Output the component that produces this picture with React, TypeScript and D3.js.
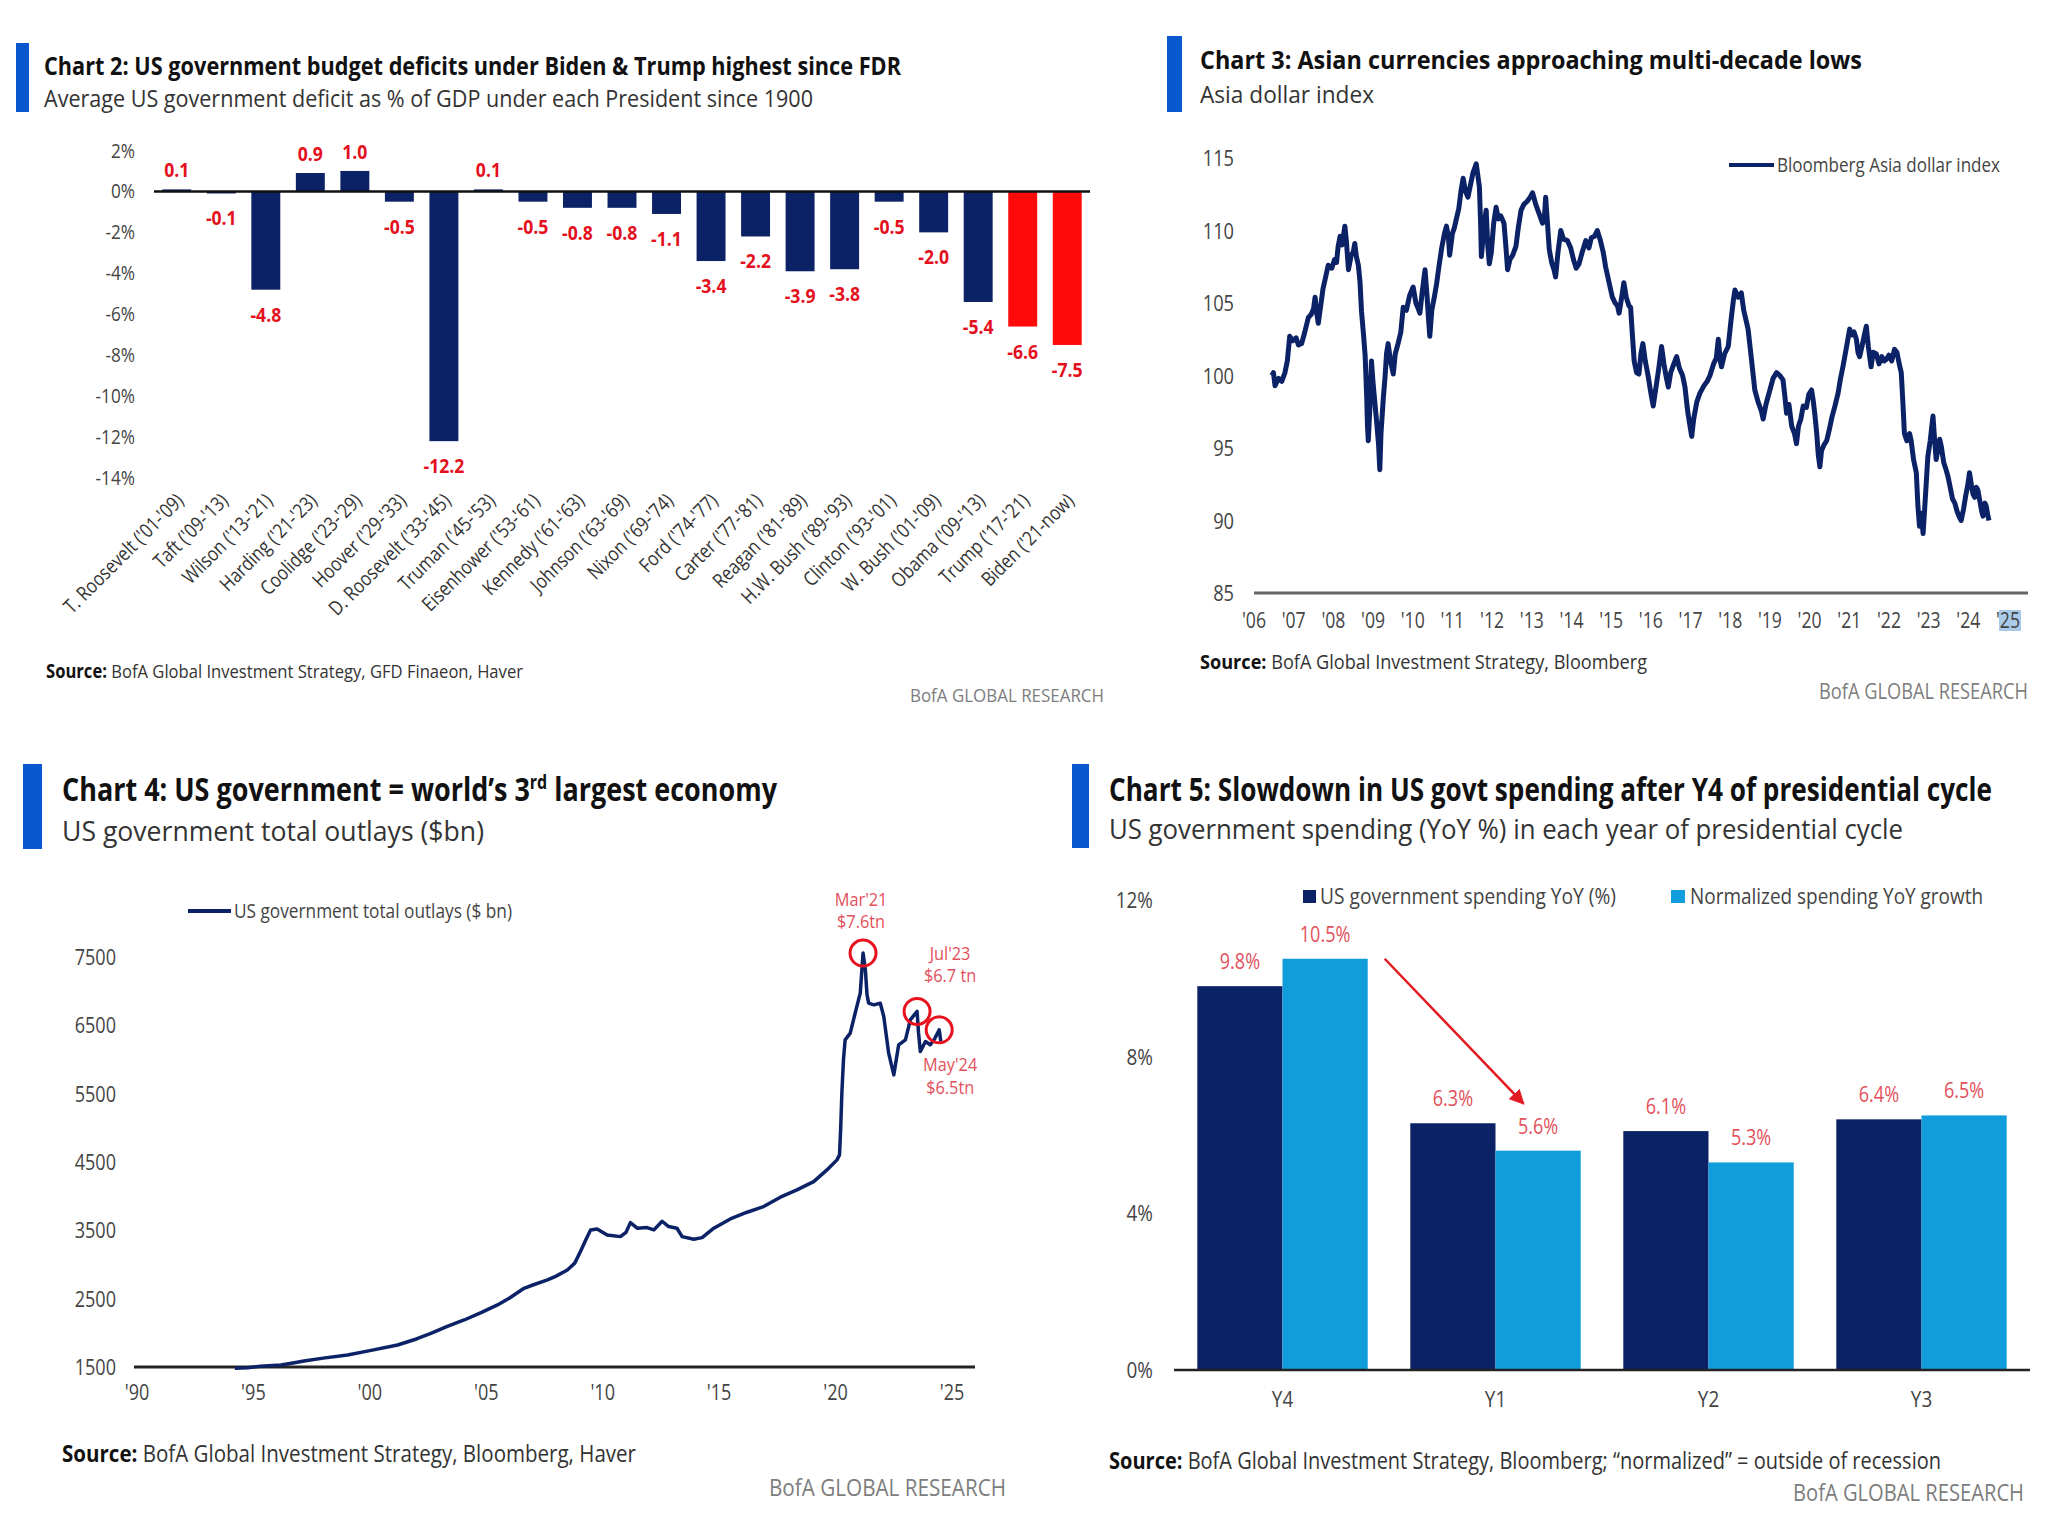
import React from 'react';
import * as d3 from 'd3';

const NAVY = '#0c2266';
const RED = '#fd0a0a';
const LABEL_RED = '#e4101d';
const SOFT_RED = '#e2505b';
const CYAN = '#119cdb';
const ACCENT = '#0a58d0';
const FONT = "'Open Sans', 'Noto Sans', sans-serif";

// Chart 2: average deficit (% of GDP) by president
const presidents = [
  "T. Roosevelt ('01-'09)", "Taft ('09-'13)", "Wilson ('13-'21)", "Harding ('21-'23)",
  "Coolidge ('23-'29)", "Hoover ('29-'33)", "D. Roosevelt ('33-'45)", "Truman ('45-'53)",
  "Eisenhower ('53-'61)", "Kennedy ('61-'63)", "Johnson ('63-'69)", "Nixon ('69-'74)",
  "Ford ('74-'77)", "Carter ('77-'81)", "Reagan ('81-'89)", "H.W. Bush ('89-'93)",
  "Clinton ('93-'01)", "W. Bush ('01-'09)", "Obama ('09-'13)", "Trump ('17-'21)", "Biden ('21-now)",
];
const deficits = [0.1, -0.1, -4.8, 0.9, 1.0, -0.5, -12.2, 0.1, -0.5, -0.8, -0.8, -1.1, -3.4, -2.2, -3.9, -3.8, -0.5, -2.0, -5.4, -6.6, -7.5];
const highlighted = ["Trump ('17-'21)", "Biden ('21-now)"];
const deficitTicks = [2, 0, -2, -4, -6, -8, -10, -12, -14];

// Chart 3: Bloomberg Asia dollar index
const asiaYears = [
  2006.45, 2006.49, 2006.53, 2006.62, 2006.7, 2006.78, 2006.84, 2006.9, 2006.98, 2007.06, 2007.12, 2007.2,
  2007.28, 2007.37, 2007.44, 2007.5, 2007.54, 2007.58, 2007.62, 2007.68, 2007.74, 2007.79, 2007.87, 2007.96,
  2008.03, 2008.08, 2008.12, 2008.17, 2008.22, 2008.29, 2008.33, 2008.38, 2008.45, 2008.5, 2008.54, 2008.58,
  2008.63, 2008.67, 2008.71, 2008.76, 2008.8, 2008.84, 2008.86, 2008.88, 2008.92, 2008.96, 2009.0, 2009.05,
  2009.1, 2009.14, 2009.17, 2009.2, 2009.26, 2009.3, 2009.34, 2009.38, 2009.44, 2009.51, 2009.56, 2009.63,
  2009.7, 2009.76, 2009.84, 2009.92, 2010.01, 2010.08, 2010.14, 2010.18, 2010.24, 2010.31, 2010.36, 2010.4,
  2010.43, 2010.48, 2010.55, 2010.6, 2010.66, 2010.73, 2010.8, 2010.85, 2010.9, 2010.93, 2011.0, 2011.05,
  2011.1, 2011.16, 2011.22, 2011.27, 2011.33, 2011.39, 2011.46, 2011.52, 2011.6, 2011.64, 2011.68, 2011.71,
  2011.73, 2011.77, 2011.81, 2011.85, 2011.89, 2011.93, 2011.98, 2012.04, 2012.1, 2012.16, 2012.22, 2012.3,
  2012.35, 2012.39, 2012.45, 2012.52, 2012.6, 2012.66, 2012.73, 2012.8, 2012.88, 2012.96, 2013.02, 2013.1,
  2013.18, 2013.27, 2013.32, 2013.35, 2013.4, 2013.44, 2013.5, 2013.56, 2013.6, 2013.66, 2013.73, 2013.8,
  2013.9, 2013.98, 2014.05, 2014.12, 2014.19, 2014.27, 2014.36, 2014.44, 2014.5, 2014.58, 2014.65, 2014.72,
  2014.8, 2014.86, 2014.94, 2015.03, 2015.1, 2015.16, 2015.2, 2015.26, 2015.32, 2015.38, 2015.45, 2015.49,
  2015.53, 2015.58, 2015.64, 2015.7, 2015.75, 2015.8, 2015.86, 2015.93, 2016.0, 2016.06, 2016.12, 2016.2,
  2016.27, 2016.33, 2016.38, 2016.44, 2016.5, 2016.58, 2016.65, 2016.72, 2016.8, 2016.86, 2016.93, 2017.0,
  2017.03, 2017.08, 2017.16, 2017.24, 2017.34, 2017.42, 2017.49, 2017.58, 2017.65, 2017.7, 2017.75, 2017.78,
  2017.86, 2017.95, 2018.02, 2018.08, 2018.12, 2018.2, 2018.28, 2018.34, 2018.4, 2018.45, 2018.52, 2018.58,
  2018.62, 2018.7, 2018.78, 2018.83, 2018.9, 2019.0, 2019.08, 2019.17, 2019.25, 2019.33, 2019.38, 2019.42,
  2019.48, 2019.55, 2019.62, 2019.67, 2019.72, 2019.78, 2019.84, 2019.92, 2019.98, 2020.05, 2020.09, 2020.13,
  2020.18, 2020.22, 2020.26, 2020.3, 2020.36, 2020.43, 2020.5, 2020.57, 2020.64, 2020.72, 2020.78, 2020.84,
  2020.92, 2021.01, 2021.06, 2021.12, 2021.18, 2021.22, 2021.26, 2021.32, 2021.38, 2021.43, 2021.48, 2021.55,
  2021.6, 2021.68, 2021.75, 2021.82, 2021.88, 2021.93, 2022.0, 2022.07, 2022.14, 2022.2, 2022.26, 2022.31,
  2022.35, 2022.39, 2022.45, 2022.52, 2022.56, 2022.62, 2022.69, 2022.73, 2022.77, 2022.82, 2022.86, 2022.9,
  2022.94, 2022.98, 2023.04, 2023.08, 2023.11, 2023.15, 2023.19, 2023.24, 2023.28, 2023.32, 2023.38, 2023.44,
  2023.49, 2023.55, 2023.6, 2023.66, 2023.72, 2023.78, 2023.82, 2023.88, 2023.94, 2023.99, 2024.03, 2024.08,
  2024.12, 2024.16, 2024.2, 2024.24, 2024.3, 2024.34, 2024.37, 2024.42, 2024.45, 2024.49, 2024.52,
];
const asiaValues = [
  100.0, 100.2, 99.3, 99.8, 99.6, 100.2, 101.0, 102.7, 102.4, 102.6, 102.1, 102.2,
  103.0, 104.0, 104.2, 104.6, 105.4, 104.3, 103.6, 104.8, 106.0, 106.6, 107.6, 107.4,
  108.0, 107.8, 108.9, 109.6, 109.0, 110.3, 109.2, 107.3, 108.3, 108.5, 109.1, 108.2,
  107.6, 106.5, 104.4, 102.8, 101.4, 98.5, 96.5, 95.5, 97.8, 101.0, 99.5, 98.0,
  96.5, 95.2, 93.5, 96.0, 98.5, 99.8, 101.5, 102.2, 101.0, 100.1, 101.5, 102.2,
  103.0, 104.7, 104.5, 105.5, 106.1, 105.0, 104.6, 104.3, 105.8, 107.3, 105.5, 103.8,
  102.7, 104.5, 105.5, 106.3, 107.5, 108.8, 109.8, 110.3, 109.5, 108.3, 109.8, 110.2,
  110.8, 111.5, 112.8, 113.6, 112.7, 112.3, 113.2, 114.0, 114.6, 113.8, 113.0, 110.5,
  108.2, 109.5, 110.6, 111.4, 109.0, 107.7, 108.5, 110.5, 111.6, 110.8, 111.0, 110.5,
  108.8, 107.3, 108.0, 108.3, 108.9, 110.2, 111.4, 111.8, 112.0, 112.3, 112.6, 111.8,
  111.2, 110.5, 111.0, 112.3, 110.3, 108.7, 107.8, 107.3, 106.8, 108.5, 110.0, 109.4,
  109.3, 108.8, 108.0, 107.4, 107.7, 108.5, 109.3, 108.8, 109.5, 109.6, 110.0, 109.4,
  108.5, 107.5, 106.5, 105.4, 105.0, 104.8, 104.3, 105.3, 106.4, 105.4, 104.8, 104.7,
  103.0, 101.0, 100.2, 100.1, 101.5, 102.2, 101.0, 100.0, 98.8, 97.9, 99.0, 100.5,
  102.0, 100.8, 100.0, 99.2, 100.2, 100.8, 101.3, 100.5, 100.0, 99.2, 97.5, 96.3,
  95.8, 97.0, 98.2, 98.8, 99.3, 99.6, 100.0, 100.8, 101.2, 102.5, 101.0, 100.6,
  101.5, 102.0, 103.8, 105.2, 105.9, 105.4, 105.7, 104.5, 103.8, 103.2, 101.5, 100.0,
  99.0, 98.2, 97.6, 97.0, 98.0, 99.0, 99.8, 100.2, 100.0, 99.7, 98.5, 97.4,
  98.0, 96.5, 96.0, 95.3, 96.5, 97.0, 97.9, 97.8, 98.7, 99.0, 98.3, 97.4,
  96.0, 94.5, 93.7, 94.8, 95.2, 95.5, 96.3, 97.2, 97.9, 98.8, 99.8, 100.6,
  101.8, 103.2, 102.8, 103.0, 102.5, 101.6, 101.3, 102.0, 102.8, 103.4, 102.0, 100.6,
  101.6, 101.5, 100.8, 101.3, 101.0, 101.1, 101.4, 101.0, 101.8, 101.6, 100.8, 100.2,
  98.2, 96.0, 95.5, 96.0, 95.5, 94.2, 93.3, 91.0, 89.6, 90.5, 89.1, 90.8,
  92.6, 94.4, 95.5, 96.5, 97.2, 95.6, 94.2, 95.0, 95.6, 95.1, 94.0, 93.5,
  93.0, 92.2, 91.5, 91.2, 90.6, 90.2, 90.0, 90.8, 91.8, 92.5, 93.3, 92.4,
  91.8, 91.6, 92.3, 92.1, 91.2, 90.6, 90.3, 91.2, 91.0, 90.4, 90.0,
];
const asiaTicks = [85, 90, 95, 100, 105, 110, 115];
const asiaYearTicks = d3.range(2006, 2026);

// Chart 4: US government total outlays ($bn)
const outlayYears = [
  1994.2, 1994.75, 1995.3, 1996.18, 1996.7, 1997.17, 1998.0, 1999.04, 2000.0, 2001.19, 2002.0, 2002.62,
  2003.3, 2004.05, 2004.8, 2005.48, 2006.0, 2006.62, 2007.0, 2007.63, 2008.0, 2008.48, 2008.8, 2009.06,
  2009.3, 2009.48, 2009.76, 2010.19, 2010.76, 2011.0, 2011.19, 2011.48, 2011.9, 2012.2, 2012.55, 2012.83,
  2013.19, 2013.41, 2013.91, 2014.27, 2014.77, 2015.48, 2016.2, 2016.91, 2017.63, 2018.34, 2019.06, 2019.63,
  2020.06, 2020.17, 2020.22, 2020.27, 2020.34, 2020.41, 2020.63, 2020.84, 2021.06, 2021.18, 2021.28, 2021.35,
  2021.42, 2021.64, 2021.92, 2022.07, 2022.28, 2022.5, 2022.71, 2023.0, 2023.21, 2023.5, 2023.56, 2023.64,
  2023.86, 2024.07, 2024.25, 2024.45, 2024.52,
];
const outlayValues = [
  1480, 1490, 1510, 1530, 1560, 1588, 1630, 1676, 1740, 1822, 1910, 1993,
  2090, 2188, 2300, 2408, 2510, 2652, 2700, 2774, 2830, 2920, 3020, 3200,
  3380, 3506, 3520, 3433, 3408, 3470, 3613, 3531, 3540, 3506, 3633, 3555,
  3531, 3408, 3369, 3393, 3531, 3667, 3765, 3848, 3985, 4092, 4213, 4384,
  4531, 4604, 5000, 5507, 6000, 6288, 6385, 6677, 6971, 7557, 7312, 6950,
  6824, 6800, 6824, 6629, 6093, 5775, 6215, 6288, 6581, 6703, 6400, 6117,
  6263, 6215, 6300, 6434, 6263,
];
const outlayTicks = [1500, 2500, 3500, 4500, 5500, 6500, 7500];
const outlayYearTicks = [1990, 1995, 2000, 2005, 2010, 2015, 2020, 2025];
const peakYears = [2021.18, 2023.5, 2024.45];
const peakValues = [7557, 6703, 6434];
const peakLabels = [["Mar'21", '$7.6tn'], ["Jul'23", '$6.7 tn'], ["May'24", '$6.5tn']];

// Chart 5: spending growth by year of presidential cycle
const cycleYears = ['Y4', 'Y1', 'Y2', 'Y3'];
const spendingYoY = [9.8, 6.3, 6.1, 6.4];
const normalizedYoY = [10.5, 5.6, 5.3, 6.5];
const spendingTicks = [0, 4, 8, 12];

type TxtProps = {
  x: number; y: number; size: number; anchor?: string; weight?: number;
  fill?: string; sx?: number; rotate?: number; children: React.ReactNode;
};

// condensed text: the source uses a narrow humanist face
const Txt = ({ x, y, size, anchor = 'start', weight = 400, fill = '#333', sx = 0.86, rotate = 0, children }: TxtProps) => (
  <text
    transform={`translate(${x},${y})${rotate ? ` rotate(${rotate})` : ''} scale(${sx},1)`}
    fontSize={size} fontWeight={weight} fill={fill} textAnchor={anchor as any} fontFamily={FONT}
  >
    {children}
  </text>
);

type FitProps = { x: number; y: number; w: number; size: number; weight?: number; fill?: string; children: React.ReactNode };

const Fit = ({ x, y, w, size, weight = 400, fill = '#333', children }: FitProps) => (
  <text x={x} y={y} textLength={w} lengthAdjust="spacingAndGlyphs" fontSize={size} fontWeight={weight} fill={fill} fontFamily={FONT}>
    {children}
  </text>
);

type HeaderProps = {
  bar: [number, number, number, number];
  x: number; titleY: number; titleW: number; titleSize: number;
  subY: number; subW: number; subSize: number;
  title: React.ReactNode; subtitle: string;
};

const Header = ({ bar, x, titleY, titleW, titleSize, subY, subW, subSize, title, subtitle }: HeaderProps) => (
  <g>
    <rect x={bar[0]} y={bar[1]} width={bar[2]} height={bar[3]} fill={ACCENT} />
    <Fit x={x} y={titleY} w={titleW} size={titleSize} weight={700} fill="#111">{title}</Fit>
    <Fit x={x} y={subY} w={subW} size={subSize} fill="#333">{subtitle}</Fit>
  </g>
);

type FooterProps = { x: number; y: number; w: number; size: number; text: string; bx: number; by: number; bw: number; bsize: number };

const Footer = ({ x, y, w, size, text, bx, by, bw, bsize }: FooterProps) => (
  <g>
    <Fit x={x} y={y} w={w} size={size} fill="#333">
      <tspan fontWeight={700} fill="#111">Source:</tspan> {text}
    </Fit>
    <Fit x={bx} y={by} w={bw} size={bsize} fill="#7d7d7d">BofA GLOBAL RESEARCH</Fit>
  </g>
);

const DeficitChart = () => {
  const x = d3.scaleBand<string>().domain(presidents).range([154.5, 1089.5]).paddingInner(0.35).paddingOuter(0.175);
  const y = d3.scaleLinear().domain([-14, 2]).range([478, 150.5]);
  const bw = x.bandwidth();
  return (
    <g>
      <Header
        bar={[16, 43, 13, 69]} x={44} titleY={75} titleW={857} titleSize={25}
        subY={107} subW={769} subSize={23}
        title="Chart 2: US government budget deficits under Biden & Trump highest since FDR"
        subtitle="Average US government deficit as % of GDP under each President since 1900"
      />
      {deficitTicks.map(t => (
        <Txt key={t} x={135} y={y(t) + 7} size={20} anchor="end" fill="#444">{`${t}%`}</Txt>
      ))}
      {presidents.map((p, i) => {
        const v = deficits[i];
        const x0 = x(p) as number;
        return (
          <rect key={p} x={x0} y={y(Math.max(0, v))} width={bw} height={Math.abs(y(v) - y(0))}
            fill={highlighted.includes(p) ? RED : NAVY} />
        );
      })}
      <line x1={154} x2={1090} y1={y(0)} y2={y(0)} stroke="#111" strokeWidth={2.5} />
      {presidents.map((p, i) => {
        const v = deficits[i];
        const cx = (x(p) as number) + bw / 2;
        const ly = v >= 0 ? y(v) - 12 : y(v) + 32;
        return (
          <Txt key={p} x={cx} y={ly} size={20} weight={700} anchor="middle" fill={LABEL_RED} sx={0.88}>
            {v.toFixed(1)}
          </Txt>
        );
      })}
      {presidents.map(p => (
        <Txt key={p} x={(x(p) as number) + bw / 2 + 8} y={502} size={20} anchor="end" fill="#333" rotate={-45} sx={0.84}>{p}</Txt>
      ))}
      <Footer x={46} y={678} w={477} size={19} text="BofA Global Investment Strategy, GFD Finaeon, Haver"
        bx={910} by={702} bw={194} bsize={19} />
    </g>
  );
};

const AsiaChart = () => {
  const x = d3.scaleLinear().domain([2006, 2025]).range([1254, 2008]);
  const y = d3.scaleLinear().domain([85, 115]).range([593, 158]);
  const line = d3.line<number>().x((_, i) => x(asiaYears[i])).y(d => y(d));
  return (
    <g>
      <Header
        bar={[1167, 36, 15, 76]} x={1200} titleY={69} titleW={662} titleSize={25}
        subY={103} subW={174} subSize={24}
        title="Chart 3: Asian currencies approaching multi-decade lows"
        subtitle="Asia dollar index"
      />
      {asiaTicks.map(t => (
        <Txt key={t} x={1234} y={y(t) + 8} size={22} anchor="end" fill="#444" sx={0.83}>{t}</Txt>
      ))}
      <line x1={1254} x2={2028} y1={y(85)} y2={y(85)} stroke="#666" strokeWidth={3} />
      <rect x={x(2025) - 9} y={610} width={22} height={21} fill="#a9cbe9" />
      {asiaYearTicks.map(t => (
        <Txt key={t} x={x(t)} y={628} size={22} anchor="middle" fill="#444" sx={0.8}>{`'${String(t).slice(2)}`}</Txt>
      ))}
      <path d={line(asiaValues) || ''} fill="none" stroke={NAVY} strokeWidth={5} strokeLinejoin="round" />
      <line x1={1729} x2={1774} y1={165} y2={165} stroke={NAVY} strokeWidth={4} />
      <Fit x={1777} y={172} w={223} size={20} fill="#444">Bloomberg Asia dollar index</Fit>
      <Footer x={1200} y={669} w={447} size={20} text="BofA Global Investment Strategy, Bloomberg"
        bx={1819} by={699} bw={209} bsize={21} />
    </g>
  );
};

const OutlaysChart = () => {
  const x = d3.scaleLinear().domain([1990, 2025]).range([137, 952]);
  const y = d3.scaleLinear().domain([1500, 7500]).range([1367, 957]);
  const line = d3.line<number>().x((_, i) => x(outlayYears[i])).y(d => y(d));
  return (
    <g>
      <Header
        bar={[23, 764, 19, 85]} x={62} titleY={801} titleW={715} titleSize={32}
        subY={841} subW={422} subSize={28}
        title={<>Chart 4: US government = world’s 3<tspan fontSize={19} dy={-12}>rd</tspan><tspan dy={12}> largest economy</tspan></>}
        subtitle="US government total outlays ($bn)"
      />
      <line x1={188} x2={231} y1={911} y2={911} stroke={NAVY} strokeWidth={4} />
      <Fit x={234} y={918} w={278} size={20} fill="#444">US government total outlays ($ bn)</Fit>
      {outlayTicks.map(t => (
        <Txt key={t} x={116} y={y(t) + 8} size={21} anchor="end" fill="#444">{t}</Txt>
      ))}
      <line x1={134} x2={975} y1={y(1500)} y2={y(1500)} stroke="#222" strokeWidth={3} />
      {outlayYearTicks.map(t => (
        <Txt key={t} x={x(t)} y={1400} size={21} anchor="middle" fill="#444">{`'${String(t).slice(2)}`}</Txt>
      ))}
      <path d={line(outlayValues) || ''} fill="none" stroke={NAVY} strokeWidth={3.5} strokeLinejoin="round" />
      {peakYears.map((yr, i) => (
        <circle key={yr} cx={x(yr)} cy={y(peakValues[i])} r={13} fill="none" stroke="#e8121e" strokeWidth={3} />
      ))}
      <Txt x={x(peakYears[0]) - 2} y={906} size={19} anchor="middle" fill={SOFT_RED}>{peakLabels[0][0]}</Txt>
      <Txt x={x(peakYears[0]) - 2} y={928} size={19} anchor="middle" fill={SOFT_RED}>{peakLabels[0][1]}</Txt>
      <Txt x={x(peakYears[1]) + 33} y={960} size={19} anchor="middle" fill={SOFT_RED}>{peakLabels[1][0]}</Txt>
      <Txt x={x(peakYears[1]) + 33} y={982} size={19} anchor="middle" fill={SOFT_RED}>{peakLabels[1][1]}</Txt>
      <Txt x={x(peakYears[2]) + 11} y={1071} size={19} anchor="middle" fill={SOFT_RED}>{peakLabels[2][0]}</Txt>
      <Txt x={x(peakYears[2]) + 11} y={1094} size={19} anchor="middle" fill={SOFT_RED}>{peakLabels[2][1]}</Txt>
      <Footer x={62} y={1462} w={574} size={23} text="BofA Global Investment Strategy, Bloomberg, Haver"
        bx={769} by={1496} bw={237} bsize={23} />
    </g>
  );
};

const CycleChart = () => {
  const x0 = d3.scaleBand<string>().domain(cycleYears).range([1176, 2028]).paddingInner(0.2).paddingOuter(0.1);
  const x1 = d3.scaleBand<string>().domain(['spend', 'norm']).range([0, x0.bandwidth()]);
  const y = d3.scaleLinear().domain([0, 12]).range([1370, 900]);
  const series = [
    { key: 'spend', values: spendingYoY, color: NAVY },
    { key: 'norm', values: normalizedYoY, color: CYAN },
  ];
  const ax1 = (x0('Y4') as number) + x0.bandwidth() + 17;
  const ay1 = y(normalizedYoY[0]);
  const ax2 = (x0('Y1') as number) + (x1('norm') as number) + 28;
  const ay2 = y(normalizedYoY[1]) - 47;
  return (
    <g>
      <Header
        bar={[1072, 764, 17, 84]} x={1109} titleY={801} titleW={883} titleSize={32}
        subY={839} subW={794} subSize={28}
        title="Chart 5: Slowdown in US govt spending after Y4 of presidential cycle"
        subtitle="US government spending (YoY %) in each year of presidential cycle"
      />
      <defs>
        <marker id="arrowHead" viewBox="0 0 10 10" refX={9} refY={5} markerWidth={6} markerHeight={6} orient="auto">
          <path d="M0,0 L10,5 L0,10 z" fill="#e21b23" />
        </marker>
      </defs>
      {spendingTicks.map(t => (
        <Txt key={t} x={1153} y={y(t) + 8} size={22} anchor="end" fill="#444">{`${t}%`}</Txt>
      ))}
      <rect x={1303} y={890} width={13} height={13} fill={NAVY} />
      <Fit x={1320} y={904} w={296} size={22} fill="#444">US government spending YoY (%)</Fit>
      <rect x={1671} y={890} width={14} height={13} fill={CYAN} />
      <Fit x={1690} y={904} w={293} size={22} fill="#444">Normalized spending YoY growth</Fit>
      {series.map(s => (
        <g key={s.key}>
          {cycleYears.map((c, i) => {
            const bx = (x0(c) as number) + (x1(s.key) as number);
            return (
              <g key={c}>
                <rect x={bx} y={y(s.values[i])} width={x1.bandwidth()} height={y(0) - y(s.values[i])} fill={s.color} />
                <Txt x={bx + x1.bandwidth() / 2} y={y(s.values[i]) - 17} size={21} anchor="middle" fill={SOFT_RED}>
                  {`${s.values[i].toFixed(1)}%`}
                </Txt>
              </g>
            );
          })}
        </g>
      ))}
      <line x1={1174} x2={2030} y1={y(0)} y2={y(0)} stroke="#222" strokeWidth={2.5} />
      {cycleYears.map(c => (
        <Txt key={c} x={(x0(c) as number) + x0.bandwidth() / 2} y={1407} size={22} anchor="middle" fill="#444">{c}</Txt>
      ))}
      <line x1={ax1} y1={ay1} x2={ax2} y2={ay2} stroke="#e21b23" strokeWidth={2.5} markerEnd="url(#arrowHead)" />
      <Footer x={1109} y={1469} w={832} size={23}
        text="BofA Global Investment Strategy, Bloomberg; “normalized” = outside of recession"
        bx={1793} by={1501} bw={231} bsize={23} />
    </g>
  );
};

const App = () => (
  <svg width={2048} height={1527} style={{ position: 'absolute', left: 0, top: 0, background: '#fff' }}>
    <rect width={2048} height={1527} fill="#fff" />
    <DeficitChart />
    <AsiaChart />
    <OutlaysChart />
    <CycleChart />
  </svg>
);

export default App;
